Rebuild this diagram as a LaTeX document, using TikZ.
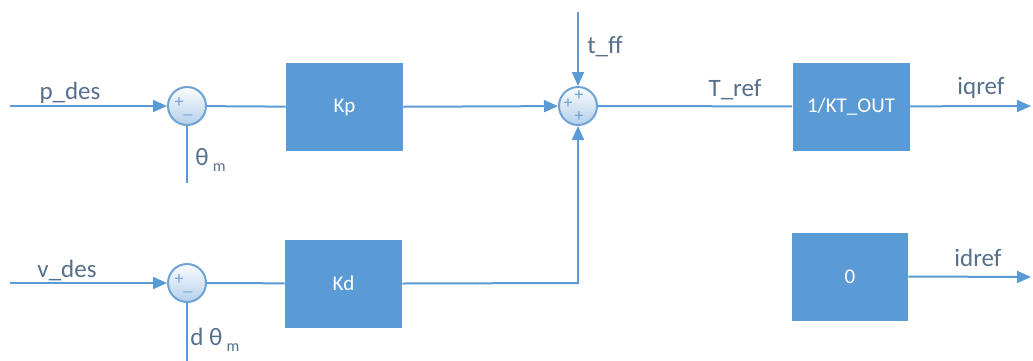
\documentclass[tikz,border=0pt]{standalone}
\usepackage{fontspec}
\setmainfont{Carlito}
\usetikzlibrary{arrows.meta,shadings}
\definecolor{blk}{HTML}{5B9BD5}
\definecolor{ln}{HTML}{5B9BD5}
\definecolor{cb}{HTML}{6FA3D6}
\definecolor{cf}{HTML}{B4CFEA}
\definecolor{lbl}{HTML}{55708C}
\tikzset{
  blockbox/.style={draw=none, fill=blk, text=white, minimum width=58.5pt, minimum height=44pt, inner sep=0pt, font=\fontsize{10.5}{12}\selectfont},
  sumnode/.style={circle, draw=cb, line width=1pt, top color=white!95!cf, bottom color=cf, minimum size=19pt, inner sep=0pt},
  wire/.style={draw=ln, line width=1pt},
  arr/.style={wire, -{Triangle[length=7pt,width=6pt]}},
  lab/.style={text=lbl, inner sep=0pt, font=\fontsize{12.5}{14}\selectfont},
  sgn/.style={text=cb, inner sep=0pt, font=\fontsize{9}{10}\selectfont},
}
\begin{document}
\begin{tikzpicture}[x=0.5pt, y=-0.5pt]
\useasboundingbox (0,0) rectangle (1033,360);
% inputs
\coordinate (pin) at (10,106);
\coordinate (vin) at (10,283);
\coordinate (thm) at (187,183);
\coordinate (dthm) at (187,362);
\coordinate (tff) at (578,12);
\coordinate (iq) at (1031,106);
\coordinate (id) at (1031,277);
\coordinate (corner) at (578,283);
% sums
\node[sumnode] (s1) at (187,106) {};
\node[sumnode] (s2) at (187,283) {};
\node[sumnode] (s3) at (578,106) {};
% blocks
\node[blockbox] (kp) at (344.5,107) {Kp};
\node[blockbox] (kd) at (343.5,283.5) {Kd};
\node[blockbox] (kt) at (851,106.5) {1/KT\_OUT};
\node[blockbox, minimum width=58pt] (zero) at (850,276.5) {0};
% signs
\node[sgn] (p1) at (179,103) {+};
\node[sgn] (m1) at (188,115) {\_};
\node[sgn] (p2) at (179,280) {+};
\node[sgn] (m2) at (188,292) {\_};
\node[sgn] (p3a) at (568,104) {+};
\node[sgn] (p3b) at (579,96) {+};
\node[sgn] (p3c) at (579,117) {+};
% wires
\draw[arr] (pin) -- (s1);
\draw[arr] (vin) -- (s2);
\draw[wire] (s1.south) -- (thm);
\draw[wire] (s2.south) -- (dthm);
\draw[wire] (s1) -- (kp);
\draw[wire] (s2) -- (kd);
\draw[arr] (kp) -- (s3);
\draw[arr] (kd.east) -- (corner) -- (s3.south);
\draw[arr] (tff) -- (s3.north);
\draw[wire] (s3) -- (kt);
\draw[arr] (kt) -- (iq);
\draw[arr] (zero.east) -- (id);
% labels
\node[lab] (lp) at (70,93) {p\_des};
\node[lab] (lv) at (67,270) {v\_des};
\node[lab] (ltff) at (605,47) {t\_ff};
\node[lab] (ltref) at (735,90) {T\_ref};
\node[lab] (liq) at (981,88) {iqref};
\node[lab] (lid) at (978,258) {idref};
\node[lab, anchor=west] (lth) at (195,160) {θ\,{\fontsize{8}{9}\selectfont\raisebox{-3pt}{m}}};
\node[lab, anchor=west] (ldth) at (190,340) {d θ\,{\fontsize{8}{9}\selectfont\raisebox{-3pt}{m}}};
\end{tikzpicture}
\end{document}
